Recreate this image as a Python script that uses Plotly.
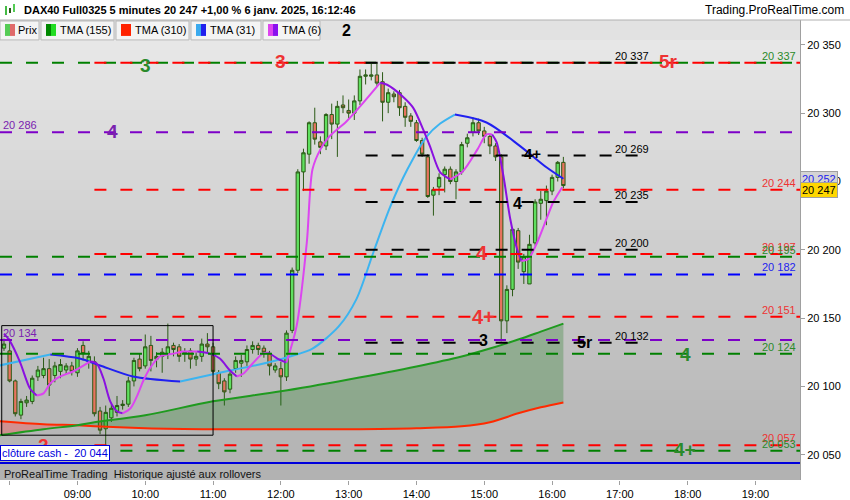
import plotly.graph_objects as go
import pandas as pd

DAY = "2025-01-06 "


def T(hm):
    return DAY + hm


# ---------------- data ----------------
BAR_TIMES = list(pd.date_range(DAY + "07:55", periods=100, freq="5min").strftime("%Y-%m-%d %H:%M"))
OPEN = [20128, 20126, 20104, 20079, 20088, 20089, 20107, 20108, 20113, 20108,
        20111, 20112, 20115, 20110, 20130, 20118, 20118, 20082, 20069, 20077,
        20081, 20086, 20087, 20104, 20120, 20115, 20130, 20120, 20125, 20124,
        20130, 20129, 20124, 20126, 20120, 20122, 20131, 20129, 20110, 20104,
        20098, 20113, 20117, 20118, 20127, 20130, 20128, 20124, 20112, 20113,
        20107, 20141, 20185, 20257, 20270, 20293, 20279, 20276, 20299, 20292,
        20306, 20302, 20300, 20309, 20327, 20327, 20328, 20323, 20308, 20314,
        20315, 20305, 20298, 20293, 20280, 20268, 20240, 20246, 20255, 20259,
        20250, 20257, 20278, 20286, 20293, 20287, 20283, 20276, 20268, 20148,
        20171, 20214, 20184, 20175, 20205, 20234, 20236, 20243, 20253, 20264]
HIGH = [20135, 20135, 20105, 20091, 20093, 20108, 20115, 20121, 20120, 20118,
        20120, 20117, 20118, 20128, 20133, 20126, 20122, 20085, 20086, 20087,
        20093, 20090, 20107, 20121, 20124, 20138, 20137, 20125, 20128, 20146,
        20132, 20131, 20128, 20128, 20125, 20135, 20139, 20132, 20112, 20106,
        20111, 20122, 20123, 20130, 20133, 20132, 20130, 20126, 20117, 20118,
        20141, 20187, 20259, 20274, 20294, 20304, 20283, 20300, 20307, 20309,
        20313, 20310, 20313, 20332, 20332, 20336, 20337, 20330, 20318, 20316,
        20317, 20308, 20300, 20295, 20282, 20270, 20246, 20256, 20261, 20261,
        20259, 20279, 20285, 20297, 20296, 20290, 20285, 20278, 20270, 20174,
        20216, 20216, 20197, 20211, 20237, 20243, 20247, 20255, 20265, 20268]
LOW = [20126, 20103, 20078, 20076, 20085, 20087, 20104, 20106, 20093, 20103,
       20106, 20109, 20108, 20107, 20119, 20113, 20078, 20065, 20057, 20074,
       20078, 20083, 20085, 20100, 20111, 20113, 20111, 20114, 20110, 20120,
       20122, 20118, 20118, 20113, 20115, 20118, 20125, 20109, 20098, 20086,
       20095, 20110, 20107, 20115, 20124, 20123, 20121, 20108, 20110, 20086,
       20104, 20139, 20183, 20243, 20263, 20277, 20270, 20273, 20281, 20268,
       20300, 20296, 20295, 20306, 20321, 20324, 20320, 20294, 20300, 20308,
       20298, 20290, 20290, 20279, 20268, 20238, 20225, 20240, 20242, 20248,
       20237, 20255, 20275, 20283, 20284, 20278, 20270, 20265, 20133, 20139,
       20166, 20186, 20175, 20175, 20203, 20222, 20218, 20240, 20250, 20245]
CLOSE = [20131, 20104, 20080, 20089, 20090, 20106, 20112, 20113, 20101, 20115,
         20116, 20115, 20111, 20126, 20124, 20122, 20080, 20068, 20081, 20084,
         20086, 20087, 20104, 20119, 20113, 20129, 20119, 20122, 20122, 20129,
         20127, 20122, 20125, 20120, 20122, 20131, 20129, 20111, 20102, 20096,
         20109, 20119, 20119, 20127, 20130, 20127, 20125, 20115, 20115, 20107,
         20139, 20185, 20257, 20271, 20293, 20281, 20275, 20299, 20292, 20305,
         20304, 20300, 20309, 20327, 20328, 20328, 20322, 20308, 20315, 20312,
         20304, 20297, 20294, 20280, 20270, 20239, 20244, 20253, 20259, 20250,
         20257, 20277, 20282, 20293, 20287, 20283, 20276, 20268, 20148, 20171,
         20215, 20191, 20195, 20204, 20235, 20237, 20243, 20253, 20264, 20247]

SLOW_TIMES = ["07:51", "08:30", "09:00", "09:15", "10:00", "11:00", "12:00", "13:00",
              "14:00", "14:40", "15:05", "15:30", "15:50", "16:10"]
TMA155 = [20064.3, 20068.7, 20071.6, 20073.8, 20078.9, 20089.1, 20096.4, 20105.1,
          20114.6, 20121.9, 20127.7, 20134.3, 20140.1, 20146.0]
TMA310 = [20074.5, 20072.3, 20071.6, 20070.8, 20069.4, 20068.7, 20068.7, 20068.7,
          20069.4, 20070.8, 20073.8, 20080.3, 20084.7, 20088.3]

TMA31_TIMES = ["07:51", "08:36", "09:02", "09:20", "09:49", "10:31", "11:15", "11:41",
               "12:08", "12:28", "12:51", "13:07", "13:22", "13:37", "13:52", "14:09",
               "14:21", "14:34", "15:02", "15:32", "15:55", "16:10"]
TMA31 = [20115.3, 20123.3, 20120.4, 20115.3, 20107.3, 20103.6, 20111.6, 20116.0,
         20121.9, 20127.7, 20143.7, 20164.1, 20198.4, 20231.9, 20258.9, 20282.9,
         20292.4, 20299.0, 20293.2, 20275.7, 20260.4, 20252.0]

TMA6_TIMES = ["07:55", "08:00", "08:09", "08:18", "08:24", "08:30", "08:36", "08:45", "08:56",
              "09:11", "09:17", "09:23", "09:29", "09:35", "09:40", "09:47", "09:53", "09:58",
              "10:04", "10:13", "10:25", "10:33", "10:46", "10:57", "11:06", "11:15", "11:21",
              "11:27", "11:35", "11:44", "11:49", "11:57", "12:05", "12:14", "12:23", "12:28",
              "12:35", "12:43", "12:58", "13:13", "13:28", "13:34", "13:48", "13:57", "14:06",
              "14:12", "14:21", "14:30", "14:41", "14:54", "15:02", "15:07", "15:11", "15:17",
              "15:23", "15:29", "15:33", "15:39", "15:47", "15:56", "16:01", "16:09"]
TMA6 = [20138.6, 20133.5, 20118.2, 20098.5, 20093.4, 20094.9, 20102.2, 20107.3, 20110.9,
        20118.2, 20116.8, 20105.8, 20089.1, 20081.8, 20080.3, 20084.0, 20093.4, 20103.6,
        20113.1, 20121.9, 20124.0, 20125.5, 20125.5, 20124.0, 20120.4, 20111.6, 20107.3,
        20109.5, 20116.8, 20124.0, 20124.8, 20120.4, 20117.5, 20144.5, 20205.7, 20258.9,
        20273.5, 20283.0, 20293.9, 20307.7, 20322.3, 20320.8, 20312.1, 20304.1, 20288.0,
        20275.7, 20256.7, 20251.6, 20257.4, 20273.5, 20284.4, 20284.4, 20278.6, 20253.8,
        20222.5, 20200.6, 20191.8, 20193.3, 20205.7, 20224.6, 20234.8, 20245.8]

# horizontal levels
GREEN_LEVELS_FULL = [20337, 20195, 20124]
GREEN_LEVELS_LATE = [20053]
RED_LEVELS = [20337, 20244, 20197, 20151, 20057]
PURPLE_LEVELS = [20286, 20134]
BLUE_LEVELS = [20182]
BLACK_LEVELS = [20337, 20269, 20235, 20200, 20132]
CASH_CLOSE = 20044
LATE_START = "09:15"
BLACK_START, BLACK_END = "13:15", "17:27"

RIGHT_LABELS = [("20 337", 20337, "green"), ("20 244", 20244, "red"), ("20 197", 20197, "red"),
                ("20 195", 20195, "green"), ("20 182", 20182, "blue"), ("20 151", 20151, "red"),
                ("20 124", 20124, "green"), ("20 057", 20057, "red"), ("20 053", 20053, "green")]
BLACK_LABELS = [("20 337", 20337), ("20 269", 20269), ("20 235", 20235), ("20 200", 20200), ("20 132", 20132)]
BLACK_LABEL_TIME = "17:11"
LEFT_LABELS = [("20 286", 20286), ("20 134", 20134)]

BIG_LABELS = [("3", "10:00", 20334.7, "green", 19), ("3", "12:00", 20337.6, "red", 19),
              ("2", "12:58", 20360.2, "black", 16), ("4", "09:31", 20286.6, "purple", 19),
              ("4+", "15:43", 20270.6, "black", 15), ("4", "15:29", 20234.1, "black", 16),
              ("4", "14:58", 20197.7, "red", 20), ("4+", "14:59", 20151.0, "red", 20),
              ("3", "14:59", 20133.5, "black", 16), ("5r", "16:29", 20132.0, "black", 16),
              ("4", "17:58", 20123.3, "green", 19), ("4+", "17:58", 20054.0, "green", 19),
              ("2", "08:30", 20057.0, "red", 19), ("5r", "17:43", 20337.6, "red", 19)]

BOX_T0, BOX_T1, BOX_LOW, BOX_HIGH = "07:53", "11:00", 20064.3, 20144.5

X_RANGE = [T("07:51:28"), T("19:39:24")]
Y_RANGE = [20031.5, 20368.2]
Y_TICKS = [20050, 20100, 20150, 20200, 20250, 20300, 20350]
X_TICK_HOURS = ["08:00", "09:00", "10:00", "11:00", "12:00", "13:00", "14:00", "15:00",
                "16:00", "17:00", "18:00", "19:00"]

COL = {"green": "#008000", "red": "#ff0000", "purple": "#7d00c8", "blue": "#0000ff", "black": "#000000"}
LABCOL = {"green": "#2a8a2a", "red": "#ee3333", "purple": "#7a22b0", "blue": "#2222ee", "black": "#000000"}
FONT = "Arial, 'Liberation Sans', sans-serif"

# ---------------- figure ----------------
W, H = 850, 500
PL, PR, PT, PB = 0, 800, 20, 482


def px(x):
    return (x - PL) / (PR - PL)


def py(y):
    return (PB - y) / (PB - PT)


fig = go.Figure()

# cloud fill between TMA155 and TMA310
st = [T(t) for t in SLOW_TIMES]
fig.add_trace(go.Scatter(x=st[:3], y=TMA310[:3], mode="lines", line=dict(width=0, shape="spline"),
                         hoverinfo="skip", showlegend=False))
fig.add_trace(go.Scatter(x=st[:3], y=TMA155[:3], mode="lines", line=dict(width=0, shape="spline"),
                         fill="tonexty", fillcolor="rgba(255,70,70,0.35)", hoverinfo="skip", showlegend=False))
fig.add_trace(go.Scatter(x=st[2:], y=TMA310[2:], mode="lines", line=dict(width=0, shape="spline"),
                         hoverinfo="skip", showlegend=False))
fig.add_trace(go.Scatter(x=st[2:], y=TMA155[2:], mode="lines", line=dict(width=0, shape="spline"),
                         fill="tonexty", fillcolor="rgba(20,120,20,0.27)", hoverinfo="skip", showlegend=False))

# candles
fig.add_trace(go.Candlestick(
    x=BAR_TIMES, open=OPEN, high=HIGH, low=LOW, close=CLOSE,
    increasing=dict(fillcolor="#5fe05f", line=dict(color="#2b5a16", width=1)),
    decreasing=dict(fillcolor="#e8735f", line=dict(color="#2b5a16", width=1)),
    whiskerwidth=0, hoverinfo="skip", showlegend=False))

# slow MAs
fig.add_trace(go.Scatter(x=st, y=TMA310, mode="lines", line=dict(color="#ff2a00", width=2, shape="spline"),
                         hoverinfo="skip", showlegend=False))
fig.add_trace(go.Scatter(x=st, y=TMA155, mode="lines", line=dict(color="#1f9a1f", width=2, shape="spline"),
                         hoverinfo="skip", showlegend=False))


def add_dir_colored(times, vals, up_col, down_col):
    runs = []
    cur = [0, 1]
    cur_up = vals[1] >= vals[0]
    for i in range(2, len(vals)):
        up = vals[i] >= vals[i - 1]
        if up != cur_up:
            runs.append((cur_up, cur))
            cur = [i - 1]
            cur_up = up
        cur.append(i)
    runs.append((cur_up, cur))
    for up, idx in runs:
        fig.add_trace(go.Scatter(x=[T(times[i]) for i in idx], y=[vals[i] for i in idx], mode="lines",
                                 line=dict(color=up_col if up else down_col, width=2, shape="spline",
                                           smoothing=0.8),
                                 hoverinfo="skip", showlegend=False))


add_dir_colored(TMA31_TIMES, TMA31, "#3cb4f0", "#2020f0")
add_dir_colored(TMA6_TIMES, TMA6, "#dc45f0", "#8a10e0")

shapes = []
# gradient background stripes
N = 46
for i in range(N):
    f = i / (N - 1)
    c = int(234 - 56 * f)
    shapes.append(dict(type="rect", xref="paper", yref="paper", x0=0, x1=1,
                       y0=1 - (i + 1) / N, y1=1 - i / N, fillcolor=f"rgb({c},{c},{c})",
                       line=dict(width=0), layer="below"))
# legend strip and tabs
shapes.append(dict(type="rect", xref="paper", yref="paper", x0=0, x1=1, y0=py(40), y1=py(20),
                   fillcolor="#e2e2e2", line=dict(width=0), layer="below"))
TABS = [(0, 39, "Prix", ("#55cc55", "#e06a6a"), 16),
        (41, 114, "TMA (155)", ("#008800", "#22dd22"), 58),
        (116, 189, "TMA (310)", ("#ff2200", "#ff2200"), 133),
        (191, 261, "TMA (31)", ("#3aaaee", "#2020ee"), 208),
        (263, 320, "TMA (6)", ("#dd44ee", "#8a10ee"), 280)]
annotations = []
for x0, x1, name, (c1, c2), tx in TABS:
    shapes.append(dict(type="rect", xref="paper", yref="paper", x0=px(x0), x1=px(x1), y0=py(40), y1=py(21),
                       fillcolor="#f4f4f4", line=dict(color="#b8b8b8", width=1), layer="below"))
    shapes.append(dict(type="rect", xref="paper", yref="paper", x0=px(x0 + 5), x1=px(x0 + 10), y0=py(36),
                       y1=py(24), fillcolor=c1, line=dict(width=0), layer="below"))
    shapes.append(dict(type="rect", xref="paper", yref="paper", x0=px(x0 + 10), x1=px(x0 + 15), y0=py(36),
                       y1=py(24), fillcolor=c2, line=dict(width=0), layer="below"))
    annotations.append(dict(xref="paper", yref="paper", x=px(tx), y=py(30), xanchor="left", yanchor="middle",
                            text=name, showarrow=False, font=dict(family=FONT, size=11, color="#000")))

# title row
shapes.append(dict(type="line", xref="paper", yref="paper", x0=0, x1=W / PR, y0=py(20), y1=py(20),
                   line=dict(color="#b0b0b0", width=1)))
for bx, b0, b1, col in [(6, 6, 15, "#44bb44"), (10, 8, 13, "#2b5a16"), (14, 4, 12, "#55cc55")]:
    shapes.append(dict(type="rect", xref="paper", yref="paper", x0=px(bx - 1), x1=px(bx + 1),
                       y0=py(b1), y1=py(b0), fillcolor=col, line=dict(width=0)))
annotations.append(dict(xref="paper", yref="paper", x=px(22), y=py(10), xanchor="left", yanchor="middle",
                        text="<b>DAX40 Full0325 5 minutes 20 247 +1,00 % 6 janv. 2025, 16:12:46</b>",
                        showarrow=False, font=dict(family=FONT, size=11, color="#000")))
annotations.append(dict(xref="paper", yref="paper", x=px(846), y=py(10), xanchor="right", yanchor="middle",
                        text="Trading.ProRealTime.com", showarrow=False,
                        font=dict(family=FONT, size=12, color="#000")))

# level lines
DASH = "12px,14px"
x_end = X_RANGE[1]


def level(price, color, x0=None, x1=None, dash=DASH, width=2):
    if x0 is None:
        shapes.append(dict(type="line", xref="paper", yref="y", x0=0, x1=1, y0=price, y1=price,
                           line=dict(color=color, width=width, dash=dash), layer="above"))
    else:
        shapes.append(dict(type="line", xref="x", yref="y", x0=x0, x1=x1, y0=price, y1=price,
                           line=dict(color=color, width=width, dash=dash), layer="above"))


for p in GREEN_LEVELS_FULL:
    level(p, COL["green"])
for p in GREEN_LEVELS_LATE:
    level(p, COL["green"], T(LATE_START), x_end)
for p in RED_LEVELS:
    level(p, COL["red"], T(LATE_START), x_end)
for p in PURPLE_LEVELS:
    level(p, COL["purple"])
for p in BLUE_LEVELS:
    level(p, COL["blue"])
for p in BLACK_LEVELS:
    level(p, COL["black"], T(BLACK_START), T(BLACK_END))
level(CASH_CLOSE, "#0000dd", dash="solid", width=2)

# session box
shapes.append(dict(type="rect", xref="x", yref="y", x0=T(BOX_T0), x1=T(BOX_T1), y0=BOX_LOW, y1=BOX_HIGH,
                   line=dict(color="#000", width=1), fillcolor="rgba(0,0,0,0)", layer="above"))

# labels
for txt, p, c in RIGHT_LABELS:
    annotations.append(dict(xref="paper", yref="y", x=px(797), y=p, xanchor="right", yanchor="bottom",
                            text=txt, showarrow=False, borderpad=0,
                            font=dict(family=FONT, size=11, color=LABCOL[c])))
for txt, p in BLACK_LABELS:
    annotations.append(dict(xref="x", yref="y", x=T(BLACK_LABEL_TIME), y=p, xanchor="center", yanchor="bottom",
                            text=txt, showarrow=False, borderpad=0, font=dict(family=FONT, size=11, color="#000")))
for txt, p in LEFT_LABELS:
    annotations.append(dict(xref="paper", yref="y", x=px(2), y=p, xanchor="left", yanchor="bottom",
                            text=txt, showarrow=False, borderpad=0,
                            font=dict(family=FONT, size=11, color=LABCOL["purple"])))
for txt, t, p, c, s in BIG_LABELS:
    annotations.append(dict(xref="x", yref="y", x=T(t), y=p, xanchor="center", yanchor="middle",
                            text=f"<b>{txt}</b>", showarrow=False,
                            font=dict(family=FONT, size=s, color=LABCOL[c])))

annotations.append(dict(xref="paper", yref="paper", x=px(0), y=py(455), xanchor="left", yanchor="middle",
                        text="clôture cash -\u00a0\u00a020 044", showarrow=False, bgcolor="#ffffff",
                        bordercolor="#0000dd", borderwidth=1, borderpad=1,
                        font=dict(family=FONT, size=11, color="#0000dd")))
annotations.append(dict(xref="paper", yref="paper", x=px(2), y=py(476), xanchor="left", yanchor="middle",
                        text="ProRealTime Trading\u00a0\u00a0Historique ajusté aux rollovers", showarrow=False,
                        font=dict(family=FONT, size=11, color="#111")))
# current value boxes on axis
annotations.append(dict(xref="paper", yref="paper", x=1.0, y=py(180), xanchor="left", yanchor="middle",
                        text="20 252", showarrow=False, bgcolor="#d4d4d4", bordercolor="#a0a0a0",
                        borderwidth=1, borderpad=1, font=dict(family=FONT, size=11, color="#2222ee")))
annotations.append(dict(xref="paper", yref="paper", x=1.0, y=py(191), xanchor="left", yanchor="middle",
                        text="20 247", showarrow=False, bgcolor="#ffd700", bordercolor="#a0a0a0",
                        borderwidth=1, borderpad=1, font=dict(family=FONT, size=11, color="#000")))

fig.update_layout(
    width=W, height=H, margin=dict(l=PL, r=W - PR, t=PT, b=H - PB),
    paper_bgcolor="#ffffff", plot_bgcolor="#d0d0d0", boxgap=0.15,
    separators=", ", showlegend=False, shapes=shapes, annotations=annotations,
    font=dict(family=FONT, size=11, color="#000"),
    xaxis=dict(type="date", range=X_RANGE, rangeslider=dict(visible=False), showgrid=False, zeroline=False,
               showline=False, ticks="outside", ticklen=4, tickcolor="#a0a0a0",
               tickvals=[T(h) for h in X_TICK_HOURS],
               ticktext=["" if h == "08:00" else h for h in X_TICK_HOURS],
               tickfont=dict(family=FONT, size=11, color="#000"), fixedrange=True),
    yaxis=dict(range=Y_RANGE, side="right", showgrid=False, zeroline=False, showline=True,
               linecolor="#a0a0a0", ticks="outside", ticklen=4, tickcolor="#a0a0a0",
               tickvals=Y_TICKS, tickformat=",d", tickfont=dict(family=FONT, size=11, color="#000"),
               fixedrange=True, automargin=False),
)

fig.write_html("out.html", config={"displayModeBar": False},
               post_script="document.body.style.margin='0';document.body.style.overflow='hidden';")
